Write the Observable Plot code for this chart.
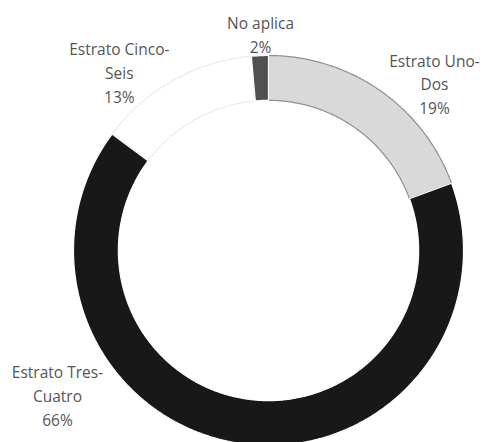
<!DOCTYPE html>
<html>
<head>
<meta charset="utf-8">
<script src="https://cdn.jsdelivr.net/npm/d3@7"></script>
<script src="https://cdn.jsdelivr.net/npm/@observablehq/plot@0.6"></script>
<style>
  html, body { margin: 0; padding: 0; background: #fff; }
</style>
</head>
<body>
<div id="chart"></div>
<script>
// Data (clockwise from 12 o'clock)
const categories = ["Estrato Uno-Dos", "Estrato Tres-Cuatro", "Estrato Cinco-Seis", "No aplica"];
const values = [19.4, 65.8, 13.4, 1.4];
const labelTexts = ["Estrato Uno-\nDos\n19%", "Estrato Tres-\nCuatro\n66%", "Estrato Cinco-\nSeis\n13%", "No aplica\n2%"];

// Styles
const fills = ["#d9d9d9", "#181818", "#ffffff", "#505050"];
const strokes = ["#8f8f8f", "#ffffff", "#ebebeb", "#ffffff"];

// Layout
const W = 486, H = 442;
const cx = 268, cy = 250, R = 195; // pixel center & outer radius
const inner = 0.77;
const labelAngle = [44.7, 235.7, 320.2, 357.9];   // degrees clockwise from top
const labelRadius = [1.21, 1.31, 1.195, 1.113];

const pie = d3.pie().sort(null).value(d => d)(values);

const slices = pie.map((p, i) => {
  const pts = [];
  const n = Math.max(4, Math.ceil((p.endAngle - p.startAngle) / (Math.PI / 360)));
  for (let k = 0; k <= n; k++) {
    const a = p.startAngle + (p.endAngle - p.startAngle) * k / n;
    pts.push({x: Math.sin(a), y: Math.cos(a)});
  }
  for (let k = n; k >= 0; k--) {
    const a = p.startAngle + (p.endAngle - p.startAngle) * k / n;
    pts.push({x: inner * Math.sin(a), y: inner * Math.cos(a)});
  }
  return pts;
});

const labels = categories.map((c, i) => {
  const a = labelAngle[i] * Math.PI / 180;
  return {x: labelRadius[i] * Math.sin(a), y: labelRadius[i] * Math.cos(a), text: labelTexts[i]};
});

const chart = Plot.plot({
  width: W,
  height: H,
  margin: 0,
  x: {domain: [-cx / R, (W - cx) / R], axis: null},
  y: {domain: [-(H - cy) / R, cy / R], axis: null},
  marks: [
    ...slices.map((pts, i) => Plot.line(pts, {
      x: "x", y: "y", curve: "linear-closed",
      fill: fills[i], stroke: strokes[i], strokeWidth: 1.2
    })),
    Plot.text(labels, {
      x: "x", y: "y", text: "text",
      fontFamily: "Open Sans", fontSize: 15.5, lineHeight: 1.52,
      fill: "#555555", textAnchor: "middle"
    })
  ]
});
document.getElementById("chart").appendChild(chart);
</script>
</body>
</html>
